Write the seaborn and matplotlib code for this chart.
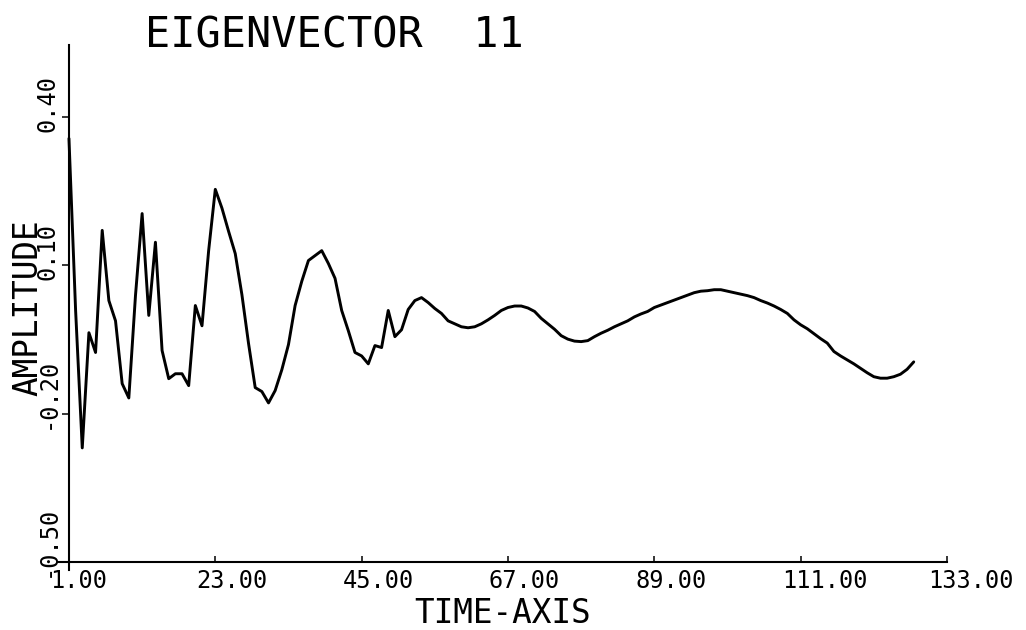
import matplotlib
matplotlib.use("Agg")
import matplotlib.pyplot as plt
import matplotlib.transforms as mtransforms
import pandas as pd
import seaborn as sns

# Eigenvector amplitude sampled at each time step
time_steps = list(range(1, 129))
amplitude = [
    0.357, 0.009, -0.269, -0.036, -0.076, 0.171, 0.029, -0.012, -0.139, -0.168,
    0.039, 0.205, -0.001, 0.147, -0.072, -0.129, -0.119, -0.119, -0.143, 0.019,
    -0.022, 0.130, 0.254, 0.216, 0.169, 0.124, 0.041, -0.058, -0.147, -0.155,
    -0.178, -0.153, -0.111, -0.060, 0.019, 0.068, 0.110, 0.120, 0.130, 0.104,
    0.074, 0.009, -0.032, -0.076, -0.083, -0.099, -0.062, -0.066, 0.009, -0.044,
    -0.030, 0.011, 0.029, 0.035, 0.025, 0.013, 0.003, -0.012, -0.018, -0.024,
    -0.026, -0.024, -0.018, -0.010, -0.001, 0.009, 0.015, 0.018, 0.018, 0.014,
    0.007, -0.007, -0.018, -0.029, -0.042, -0.049, -0.053, -0.054, -0.052, -0.044,
    -0.037, -0.031, -0.024, -0.018, -0.012, -0.004, 0.002, 0.007, 0.015, 0.020,
    0.025, 0.030, 0.035, 0.040, 0.045, 0.048, 0.049, 0.051, 0.051, 0.048,
    0.045, 0.042, 0.039, 0.035, 0.029, 0.024, 0.018, 0.011, 0.003, -0.010,
    -0.020, -0.028, -0.038, -0.048, -0.057, -0.074, -0.083, -0.091, -0.099, -0.108,
    -0.117, -0.125, -0.128, -0.128, -0.125, -0.120, -0.110, -0.095,
]

x_ticks = [1, 23, 45, 67, 89, 111, 133]
x_tick_labels = ["1.00", "23.00", "45.00", "67.00", "89.00", "111.00", "133.00"]
y_ticks = [0.40, 0.10, -0.20, -0.50]
y_tick_labels = ["0.40", "0.10", "-0.20", "-0.50"]

title_text = "EIGENVECTOR  11"
x_label = "TIME-AXIS"
y_label = "AMPLITUDE"

sns.set_theme(style="ticks")
plt.rcParams["font.family"] = ["DejaVu Sans Mono"]
plt.rcParams["text.color"] = "black"
plt.rcParams["axes.labelcolor"] = "black"

W, H, DPI = 1026, 630, 100
fig = plt.figure(figsize=(W / DPI, H / DPI), dpi=DPI)
fig.patch.set_facecolor("white")
ax = fig.add_axes([58 / W, 60 / H, 889 / W, 525 / H])
ax.set_facecolor("white")

df = pd.DataFrame({"time": time_steps, "amplitude": amplitude})
sns.lineplot(data=df, x="time", y="amplitude", color="black",
             linewidth=2.1, ax=ax)

ax.set_xlim(-0.647, 133)
ax.set_ylim(-0.516, 0.546)

# plotter-style axes: y axis through x=1, x axis through y=-0.5
ax.spines["left"].set_position(("data", 1))
ax.spines["bottom"].set_position(("data", -0.50))
for side in ("top", "right"):
    ax.spines[side].set_visible(False)
for side in ("left", "bottom"):
    ax.spines[side].set_color("black")
    ax.spines[side].set_linewidth(1.5)

ax.set_xticks(x_ticks, labels=x_tick_labels)
ax.set_yticks(y_ticks, labels=y_tick_labels)
ax.tick_params(axis="x", direction="in", length=4.3, width=1.1, pad=5,
               labelsize=17, colors="black")
ax.tick_params(axis="y", direction="out", length=5, width=1.1, pad=1.5,
               labelsize=17, colors="black", labelrotation=90)

x_shift = mtransforms.ScaledTranslation(-19 / DPI, 0, fig.dpi_scale_trans)
for lab in ax.get_xticklabels():
    lab.set_horizontalalignment("left")
    lab.set_transform(lab.get_transform() + x_shift)

y_shift = mtransforms.ScaledTranslation(0, -15 / DPI, fig.dpi_scale_trans)
for lab in ax.get_yticklabels():
    lab.set_verticalalignment("bottom")
    lab.set_horizontalalignment("right")
    lab.set_transform(lab.get_transform() + y_shift)

ax.set_xlabel(x_label, fontsize=23.5)
ax.xaxis.set_label_coords(0.5, -0.0514)
ax.set_ylabel(y_label, fontsize=23.5)
ax.yaxis.set_label_coords(-0.0157, 0.5)

fig.text(145 / W, 1 - 47 / H, title_text, fontsize=30.2,
         ha="left", va="baseline", color="black")

fig.savefig("out.png", dpi=DPI, facecolor="white")
